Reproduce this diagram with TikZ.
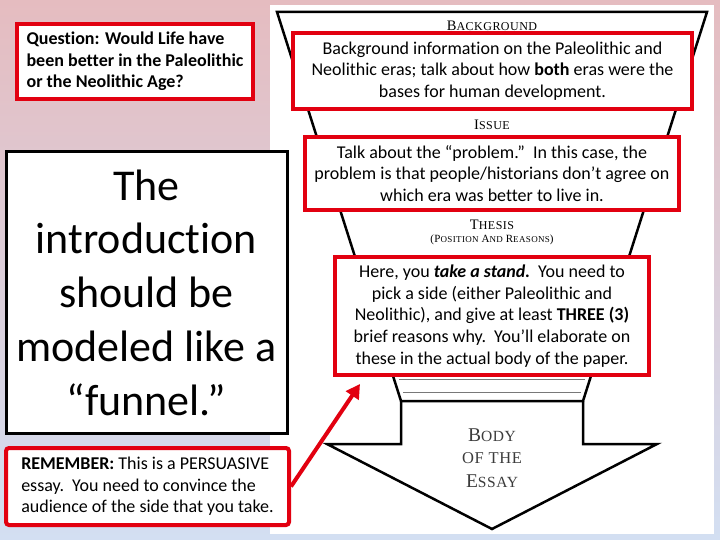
\documentclass[tikz,border=0pt]{standalone}
\usepackage{fontspec}
\setmainfont{Carlito}[Ligatures={NoCommon}]
\newfontfamily\fserif{Liberation Serif}[LetterSpace=4]
\usetikzlibrary{arrows.meta}
\definecolor{boxred}{RGB}{226,0,16}
\definecolor{bgtop}{RGB}{229,188,192}
\definecolor{bgbot}{RGB}{211,223,242}
\definecolor{bodygrey}{RGB}{60,60,60}
\definecolor{lineg}{RGB}{120,120,120}
\newcommand\scpair[4]{{\fontsize{#1}{#1}\selectfont #3}{\fontsize{#2}{#2}\selectfont #4}}
\begin{document}
\begin{tikzpicture}[x=1pt,y=-1pt,
  redbox/.style={draw=boxred, line width=4pt, fill=white, inner sep=0pt,
    font=\fontsize{18}{21.6}\selectfont, align=center},
  blackbox/.style={draw=black, line width=3pt, fill=white, inner sep=0pt,
    font=\fontsize{44}{53.7}\selectfont, align=center},
  funnel/.style={draw=black, line width=2.5pt, line join=miter},
  sclabel/.style={font=\fserif, inner sep=0pt},
  redarrow/.style={draw=boxred, line width=4pt, -{Triangle[length=14pt,width=15pt]}}
]
\shade[top color=bgtop, bottom color=bgbot] (0,0) rectangle (720,540);
\useasboundingbox (0,0) rectangle (720,540);
\fill[white] (270,5) rectangle (714,534);

% funnel
\draw[funnel] (277,12) -- (707,12) -- (583,401) -- (401,401) -- cycle;
\draw[funnel] (401,401) -- (401,444) -- (327,444) -- (492,529) -- (657,444) -- (583,444) -- (583,401);
\draw[lineg, line width=0.8pt] (399,379) -- (585,379);
\draw[lineg, line width=0.8pt] (403,392) -- (581,392);

% funnel labels
\node[sclabel] (lbg) at (492,25.5) {\scpair{14.5}{12}{B}{ACKGROUND}};
\node[sclabel] (liss) at (492,125) {\scpair{14.5}{12}{I}{SSUE}};
\node[sclabel] (lth) at (492,224.5) {\scpair{14.5}{12}{T}{HESIS}};
\node[sclabel] (lpos) at (492,240) {\scpair{11}{9}{(P}{OSITION} \scpair{11}{9}{A}{ND} \scpair{11}{9}{R}{EASONS}\scpair{11}{9}{)}{}};
\node[sclabel, text=bodygrey] (lbody) at (492,435) {\scpair{19.5}{15.5}{B}{ODY}};
\node[sclabel, text=bodygrey] (lof) at (492,458) {\scpair{16.5}{16.5}{OF THE}{}};
\node[sclabel, text=bodygrey] (less) at (492,481) {\scpair{19.5}{15.5}{E}{SSAY}};

% red boxes on the funnel
\node[redbox, minimum width=399, minimum height=76] (bgbox) at (492.5,71)
  {Background information on the Paleolithic and\\
   Neolithic eras; talk about how \textbf{both} eras were the\\
   bases for human development.};
\node[redbox, minimum width=374, minimum height=73] (issbox) at (492,173.5)
  {Talk about the “problem.”\ \ In this case, the\\
   problem is that people/historians don’t agree on\\
   which era was better to live in.};
\node[redbox, minimum width=314, minimum height=118] (thbox) at (492,316)
  {Here, you \textbf{\textit{take a stand.}}\ \ You need to\\
   pick a side (either Paleolithic and\\
   Neolithic), and give at least \textbf{THREE (3)}\\
   brief reasons why.\ \ You’ll elaborate on\\
   these in the actual body of the paper.};

% left column
\node[redbox, minimum width=236, minimum height=75, align=left,
      font=\fontsize{18}{21.4}\selectfont\bfseries] (qbox) at (135,61.5)
  {Question: Would Life have\\
   been better in the Paleolithic\\
   or the Neolithic Age?};
\node[blackbox, minimum width=281, minimum height=281] (bigbox) at (146.5,292.5)
  {The\\ introduction\\ should be\\ modeled like a\\ “funnel.”};
\node[redbox, minimum width=283, minimum height=77, rounded corners=3pt,
      align=left] (rem) at (147.5,486.5)
  {\textbf{REMEMBER:} This is a PERSUASIVE\\
   essay.\ \ You need to convince the\\
   audience of the side that you take.};

% red arrow
\coordinate (arrtip) at (360,384);
\draw[redarrow] (rem.east) -- (arrtip);
\end{tikzpicture}
\end{document}
